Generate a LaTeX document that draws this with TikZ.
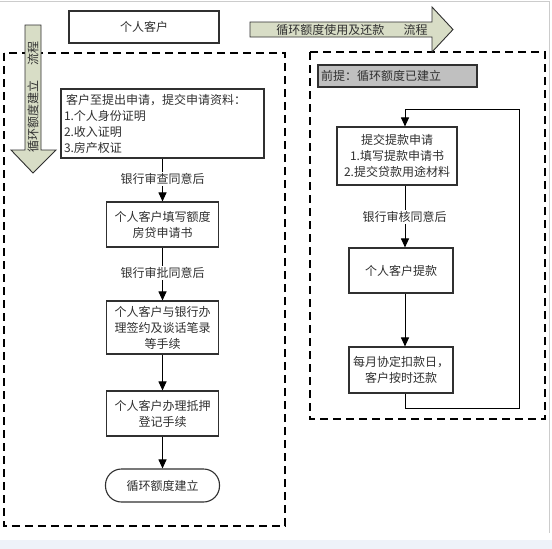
\documentclass[tikz,border=0pt]{standalone}
\usepackage{fontspec}
\setmainfont{Noto Sans CJK SC}
\usetikzlibrary{arrows.meta,calc}
\definecolor{bgblue}{HTML}{EEF2F9}
\definecolor{arrowfill}{HTML}{D8DDC6}
\definecolor{premise}{HTML}{C0C0C0}
\definecolor{ink}{HTML}{303030}
\tikzset{
  box/.style={draw=ink, line width=1.1pt, fill=white, align=center, inner sep=2pt, font=\fontsize{12}{16}\selectfont, text=ink},
  lbl/.style={fill=white, inner sep=1.5pt, font=\fontsize{12}{15}\selectfont, text=ink},
  flow/.style={draw=black, line width=1pt, -{Triangle[width=8pt,length=9pt]}},
  plain/.style={draw=black, line width=1pt},
  dashbox/.style={draw=black, line width=1.1pt, dash pattern=on 8pt off 5pt},
  bigarrow/.style={draw=ink, line width=0.9pt, fill=arrowfill}
}
\begin{document}
\begin{tikzpicture}[x=1pt,y=-1pt]
\useasboundingbox (0,0) rectangle (552,549);
\fill[white] (0,0) rectangle (552,549);
\fill[bgblue] (0,540) rectangle (552,549);
\draw[black!20, line width=1pt] (0,1) -- (549,1) -- (549,533);

% dashed frames
\draw[dashbox] (4,53) rectangle (285,526);
\draw[dashbox] (310,52) rectangle (545,419);

% big arrows
\draw[bigarrow] (250,22) -- (432,22) -- (432,7) -- (453,29.5) -- (432,52) -- (432,37) -- (250,37) -- cycle;
\node[font=\fontsize{12}{14}\selectfont, text=ink] (toparrow) at (352,29.5) {循环额度使用及还款\hspace{1.6em}流程};
\draw[bigarrow] (25,25) -- (41,25) -- (41,150) -- (56,150) -- (33,173) -- (11,150) -- (25,150) -- cycle;
\node[rotate=90, font=\fontsize{12}{14}\selectfont, text=ink] (leftarrow) at (33,97) {循环额度建立\hspace{1.2em}流程};

% header box
\node[box, minimum width=150pt, minimum height=32pt] (kh) at (144,27) {个人客户};

% left flow
\node[box, minimum width=203pt, minimum height=69pt, align=left, text width=197pt, inner sep=3pt] (l1) at (162.5,123.5)
  {\hspace{2pt}客户至提出申请，提交申请资料：\\1.个人身份证明\\2.收入证明\\3.房产权证};
\node[box, minimum width=112pt, minimum height=45pt] (l2) at (162.5,224.5) {个人客户填写额度\\房贷申请书};
\node[box, minimum width=112pt, minimum height=53pt] (l3) at (162.5,327.5) {个人客户与银行办\\理签约及谈话笔录\\等手续};
\node[box, minimum width=112pt, minimum height=45pt] (l4) at (162.5,413.5) {个人客户办理抵押\\登记手续};
\node[box, minimum width=114pt, minimum height=33pt, rounded corners=16pt] (l5) at (162.5,485.5) {循环额度建立};

\draw[flow] (l1) -- (l2);
\node[lbl] (la1) at (162.5,179) {银行审查同意后};
\draw[flow] (l2) -- (l3);
\node[lbl] (la2) at (162.5,273) {银行审批同意后};
\draw[flow] (l3) -- (l4);
\draw[flow] (l4) -- (l5);

% right flow
\node[box, fill=premise, minimum width=159pt, minimum height=22pt, text width=153pt, align=left] (pre) at (397.5,76) {前提：循环额度已建立};
\coordinate (rx) at (405,0);
\node[box, minimum width=120pt, minimum height=58pt] (r1) at (397,156) {提交提款申请\\1.填写提款申请书\\2.提交贷款用途材料};
\node[box, minimum width=104pt, minimum height=45pt] (r2) at (401,270.5) {个人客户提款};
\node[box, minimum width=104pt, minimum height=46pt] (r3) at (401,370) {每月协定扣款日，\\客户按时还款};

\draw[flow] (r1.south -| rx) -- (r2.north -| rx);
\node[lbl] (ra1) at (404.5,217) {银行审核同意后};
\draw[flow] (r2.south -| rx) -- (r3.north -| rx);
\coordinate (lp1) at (405,408);
\coordinate (lp2) at (519,408);
\coordinate (lp3) at (519,109);
\coordinate (lp4) at (405,109);
\draw[plain] (r3.south -| rx) -- (lp1) -- (lp2) -- (lp3) -- (lp4);
\draw[flow] (lp4) -- (r1.north -| rx);
\end{tikzpicture}
\end{document}
